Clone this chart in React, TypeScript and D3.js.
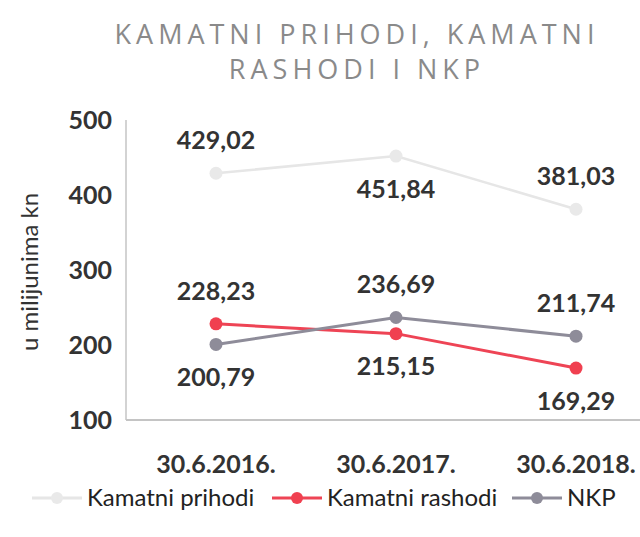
import { useEffect, useRef } from "react";
import * as d3 from "d3";

const categories = ["30.6.2016.", "30.6.2017.", "30.6.2018."];
const prihodi = [429.02, 451.84, 381.03];
const rashodi = [228.23, 215.15, 169.29];
const nkp = [200.79, 236.69, 211.74];
const yTicks = [100, 200, 300, 400, 500];

// label position per point: -1 above, 1 below
const prihodiPos = [-1, 1, -1];
const rashodiPos = [-1, 1, 1];
const nkpPos = [1, -1, -1];

const series = [
    { name: "Kamatni prihodi", values: prihodi, pos: prihodiPos, color: "#e6e6e6", marker: "#e9e9e9", width: 2.5 },
    { name: "Kamatni rashodi", values: rashodi, pos: rashodiPos, color: "#ee4455", marker: "#f04050", width: 3 },
    { name: "NKP", values: nkp, pos: nkpPos, color: "#8e8c99", marker: "#8e8c99", width: 3 },
];

const fmt = (v: number) => v.toFixed(2).replace(".", ",");

export default function App() {
    const svgRef = useRef<SVGSVGElement>(null);

    useEffect(() => {
        if (!svgRef.current) return;
        const W = 640;
        const H = 537;
        const left = 126;
        const top = 120;
        const bottom = 420;

        const svg = d3.select(svgRef.current);
        svg.selectAll("*").remove();
        svg.attr("width", W).attr("height", H);
        svg.append("rect").attr("width", W).attr("height", H).attr("fill", "#fff");

        const x = d3.scaleBand().domain(categories).range([left, left + 540]);
        const cx = (c: string) => x(c)! + x.bandwidth() / 2;
        const y = d3.scaleLinear().domain([100, 500]).range([bottom, top]);

        // title
        const title = svg
            .append("text")
            .attr("text-anchor", "middle")
            .attr("font-family", "'Open Sans', sans-serif")
            .attr("font-size", 27)
            .attr("letter-spacing", 5)
            .attr("fill", "#8a8a8a");
        title.append("tspan").attr("x", 357).attr("y", 44).text("KAMATNI PRIHODI, KAMATNI");
        title.append("tspan").attr("x", 357).attr("y", 79).text("RASHODI I NKP");

        // axes lines
        svg.append("line")
            .attr("x1", left).attr("x2", left)
            .attr("y1", top).attr("y2", bottom)
            .attr("stroke", "#c4c4c4").attr("stroke-width", 1.5);
        svg.append("line")
            .attr("x1", left).attr("x2", W)
            .attr("y1", bottom).attr("y2", bottom)
            .attr("stroke", "#c4c4c4").attr("stroke-width", 2);

        const bold = (sel: d3.Selection<SVGTextElement, any, any, any>) =>
            sel.attr("font-family", "Lato, sans-serif").attr("font-weight", "bold").attr("fill", "#333");

        // y ticks
        svg.append("g")
            .selectAll("text")
            .data(yTicks)
            .join("text")
            .call(bold as any)
            .attr("font-size", 25)
            .attr("text-anchor", "end")
            .attr("x", 112)
            .attr("y", (d) => y(d))
            .attr("dy", "0.35em")
            .text((d) => d);

        // x ticks
        svg.append("g")
            .selectAll("text")
            .data(categories)
            .join("text")
            .call(bold as any)
            .attr("font-size", 25)
            .attr("text-anchor", "middle")
            .attr("x", (d) => cx(d))
            .attr("y", 464)
            .attr("dy", "0.35em")
            .text((d) => d);

        // y title
        svg.append("text")
            .attr("transform", `translate(30,272) rotate(-90)`)
            .attr("text-anchor", "middle")
            .attr("dy", "0.35em")
            .attr("font-family", "Lato, sans-serif")
            .attr("font-size", 24)
            .attr("fill", "#333")
            .text("u milijunima kn");

        const line = d3
            .line<number>()
            .x((_, i) => cx(categories[i]))
            .y((d) => y(d));

        series.forEach((s) => {
            const g = svg.append("g");
            g.append("path")
                .attr("d", line(s.values)!)
                .attr("fill", "none")
                .attr("stroke", s.color)
                .attr("stroke-width", s.width);
            g.selectAll("circle")
                .data(s.values)
                .join("circle")
                .attr("cx", (_, i) => cx(categories[i]))
                .attr("cy", (d) => y(d))
                .attr("r", 6.5)
                .attr("fill", s.marker);
            g.selectAll("text")
                .data(s.values)
                .join("text")
                .call(bold as any)
                .attr("font-size", 25)
                .attr("text-anchor", "middle")
                .attr("x", (_, i) => cx(categories[i]))
                .attr("y", (d, i) => y(d) + s.pos[i] * 33)
                .attr("dy", "0.35em")
                .text((d) => fmt(d));
        });

        // legend
        const legendX = [32, 272, 512];
        const ly = 498;
        series.forEach((s, i) => {
            const g = svg.append("g").attr("transform", `translate(${legendX[i]},${ly})`);
            g.append("line")
                .attr("x1", 0).attr("x2", 50)
                .attr("stroke", s.color).attr("stroke-width", 3);
            g.append("circle").attr("cx", 25).attr("r", 6).attr("fill", s.marker);
            g.append("text")
                .attr("x", 55)
                .attr("dy", "0.35em")
                .attr("font-family", "Lato, sans-serif")
                .attr("font-size", 24)
                .attr("fill", "#222")
                .text(s.name);
        });
    }, []);

    return (
        <div style={{ position: "absolute", left: 0, top: 0 }}>
            <svg ref={svgRef} style={{ display: "block" }} />
        </div>
    );
}
